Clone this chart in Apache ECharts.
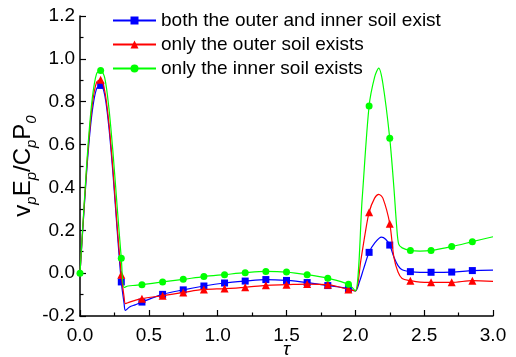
<!DOCTYPE html>
<html>
<head>
<meta charset="utf-8">
<script src="https://cdn.jsdelivr.net/npm/echarts@6/dist/echarts.min.js"></script>
<style>html,body{margin:0;padding:0;background:#fff;}#c{width:516px;height:357px;}</style>
</head>
<body>
<div id="c"></div>
<script>
// Legend / series names
const seriesNames = ['both the outer and inner soil exist', 'only the outer soil exists', 'only the inner soil exists'];
// Marker positions (tau)
const markerTau = [0, 0.15, 0.3, 0.45, 0.6, 0.75, 0.9, 1.05, 1.2, 1.35, 1.5, 1.65, 1.8, 1.95, 2.1, 2.25, 2.4, 2.55, 2.7, 2.85];
// Marker values (null = no marker visible)
const blueMarkers  = [null, 0.876, -0.041, -0.135, -0.099, -0.078, -0.060, -0.046, -0.037, -0.030, -0.034, -0.044, -0.058, -0.072, 0.097, 0.131, 0.007, 0.004, 0.005, 0.012];
const redMarkers   = [null, 0.903, -0.007, -0.119, -0.105, -0.090, -0.076, -0.072, -0.066, -0.057, -0.054, -0.051, -0.054, -0.076, 0.284, 0.231, -0.035, -0.043, -0.043, -0.035];
const greenMarkers = [0.0, 0.946, 0.069, -0.054, -0.041, -0.029, -0.016, -0.007, 0.002, 0.008, 0.005, -0.007, -0.024, -0.052, 0.780, 0.629, 0.106, 0.106, 0.124, 0.147];
// Extra curve points between markers [tau, value]
const blueCurve = [[0,0],[0.03,0.30],[0.06,0.57],[0.09,0.76],[0.12,0.86],[0.18,0.83],[0.21,0.68],[0.24,0.46],[0.27,0.20],[0.32,-0.14],[0.33,-0.174],[0.36,-0.158],[0.40,-0.148],[2.0,-0.083],[2.03,-0.04],[2.06,0.02],[2.14,0.14],[2.19,0.168],[2.22,0.158],[2.28,0.075],[2.31,0.035],[2.34,0.016],[2.47,0.004],[3.0,0.014]];
const redCurve = [[0,0],[0.03,0.31],[0.06,0.59],[0.09,0.79],[0.12,0.89],[0.18,0.85],[0.21,0.70],[0.24,0.48],[0.27,0.22],[0.32,-0.11],[0.33,-0.142],[0.36,-0.135],[0.40,-0.127],[2.0,-0.083],[2.04,0.06],[2.07,0.18],[2.14,0.35],[2.17,0.368],[2.2,0.35],[2.28,0.075],[2.31,0.005],[2.34,-0.025],[2.47,-0.042],[3.0,-0.038]];
const greenCurve = [[0.03,0.32],[0.06,0.61],[0.09,0.82],[0.12,0.93],[0.18,0.91],[0.21,0.77],[0.24,0.56],[0.27,0.31],[0.32,-0.067],[0.35,-0.06],[0.40,-0.057],[2.0,-0.083],[2.05,0.35],[2.14,0.915],[2.17,0.957],[2.2,0.885],[2.28,0.40],[2.30,0.22],[2.315,0.135],[2.34,0.118],[2.47,0.103],[3.0,0.17]];
// Tick settings
const xTicks = {min: 0, max: 3, interval: 0.5};
const yTicks = {min: -0.2, max: 1.2, interval: 0.2};

function buildData(markers, curve) {
  const pts = [];
  markers.forEach((v, i) => { if (v !== null) pts.push({value: [markerTau[i], v], mark: true}); });
  curve.forEach(p => pts.push({value: p, mark: false}));
  pts.sort((a, b) => a.value[0] - b.value[0]);
  return pts.map(p => p.mark ? {value: p.value} : {value: p.value, symbol: 'none'});
}

const font = 'Arial, "Liberation Sans", sans-serif';
const chart = echarts.init(document.getElementById('c'), null, {renderer: 'canvas'});
const colors = ['#0000ff', '#ff0000', '#00ff00'];
const symbols = ['rect', 'triangle', 'circle'];
const sizes = [7, 8, 7];
const allData = [buildData(blueMarkers, blueCurve), buildData(redMarkers, redCurve), buildData(greenMarkers, greenCurve)];

chart.setOption({
  animation: false,
  backgroundColor: '#fff',
  grid: {left: 80, right: 23, top: 16, bottom: 41, containLabel: false, outerBoundsMode: 'none'},
  legend: {
    orient: 'vertical', left: 107, top: 6,
    itemWidth: 43, itemHeight: 10, itemGap: 5,
    textStyle: {fontFamily: font, fontSize: 19, color: '#000', lineHeight: 19},
    data: seriesNames
  },
  xAxis: {
    type: 'value', min: xTicks.min, max: xTicks.max, interval: xTicks.interval,
    name: 'τ', nameLocation: 'middle', nameGap: 24, nameMoveOverlap: false,
    nameTextStyle: {fontFamily: font, fontSize: 19, fontStyle: 'italic', color: '#000'},
    axisLine: {onZero: false, lineStyle: {color: '#000', width: 1.5}},
    axisTick: {inside: true, length: 6, lineStyle: {color: '#000', width: 1.2}},
    minorTick: {show: true, splitNumber: 2, length: 3.5, lineStyle: {color: '#000', width: 1.2}},
    axisLabel: {fontFamily: font, fontSize: 19, color: '#000', margin: 10, formatter: v => v.toFixed(1)},
    splitLine: {show: false}
  },
  yAxis: {
    type: 'value', min: yTicks.min, max: yTicks.max, interval: yTicks.interval,
    name: '{m|v}{s|p}{m|E}{s|p}{m|/C}{s|p}{m|P}{s|0}',
    nameLocation: 'middle', nameGap: 27, nameRotate: 90, nameMoveOverlap: false,
    nameTextStyle: {
      rich: {
        m: {fontFamily: font, fontSize: 24, color: '#000', lineHeight: 25, verticalAlign: 'top'},
        s: {fontFamily: font, fontSize: 15, fontStyle: 'italic', color: '#000', lineHeight: 42}
      }
    },
    axisLine: {onZero: false, lineStyle: {color: '#000', width: 1.5}},
    axisTick: {inside: true, length: 6, lineStyle: {color: '#000', width: 1.2}},
    minorTick: {show: true, splitNumber: 2, length: 3.5, lineStyle: {color: '#000', width: 1.2}},
    axisLabel: {fontFamily: font, fontSize: 19, color: '#000', margin: 5, formatter: v => v.toFixed(1)},
    splitLine: {show: false}
  },
  series: seriesNames.map((n, i) => ({
    name: n, type: 'line', data: allData[i],
    smooth: 0.3, symbol: symbols[i], symbolSize: sizes[i],
    showSymbol: true, showAllSymbol: true,
    itemStyle: {color: colors[i]},
    lineStyle: {color: colors[i], width: 1.2},
    z: 2 + i
  }))
});
</script>
</body>
</html>
